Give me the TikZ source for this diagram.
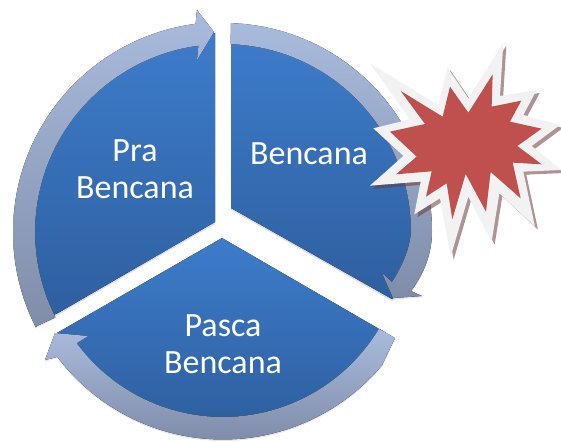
\documentclass[tikz,border=0pt]{standalone}
\usepackage{fontspec}
\setmainfont{Carlito}
\usetikzlibrary{shadows}

\definecolor{blueTop}{HTML}{3D7CCB}
\definecolor{blueBot}{HTML}{2E5F9F}
\definecolor{ringTop}{HTML}{A9BBDD}
\definecolor{ringBot}{HTML}{7F8DA9}
\definecolor{burstRed}{HTML}{C0504D}
\definecolor{burstEdge}{HTML}{F2F2F2}
\definecolor{burstShade}{HTML}{6B3A3C}

\newcommand{\burstouter}{(430,38) -- (420,198) -- (530,180) -- (490,255) -- (600,285) -- (515,348)
  -- (603,420) -- (490,425) -- (525,590) -- (418,490) -- (395,635) -- (325,500) -- (272,680)
  -- (240,505) -- (163,553) -- (182,455) -- (30,467) -- (130,378) -- (40,295) -- (150,268)
  -- (30,100) -- (235,225) -- (262,112) -- (325,205) -- cycle}
\newcommand{\burstinner}{(398,133) -- (395,230) -- (484,212) -- (450,275) -- (545,296) -- (472,348)
  -- (545,403) -- (458,398) -- (482,505) -- (392,426) -- (378,545) -- (317,432) -- (277,568)
  -- (260,460) -- (198,500) -- (215,424) -- (108,433) -- (170,380) -- (90,305) -- (195,282)
  -- (122,183) -- (248,260) -- (270,170) -- (325,248) -- cycle}

\tikzset{
  wedge/.style={
    top color=blueTop, bottom color=blueBot,
    drop shadow={shadow xshift=0pt, shadow yshift=-2pt, opacity=.25},
  },
  ring/.style={
    top color=ringTop, bottom color=ringBot,
    drop shadow={shadow xshift=0pt, shadow yshift=-1.5pt, opacity=.18},
  },
  label/.style={
    text=white, align=center, font=\fontsize{34}{37}\selectfont,
  },
}

\begin{document}
\begin{tikzpicture}[x=1pt,y=-1pt]
\useasboundingbox (0,0) rectangle (561,441);

% Pra Bencana
\fill[wedge] (215,222) -- (215,33)
  -- plot[domain=95:206,samples=40] ({223+198*cos(\x)},{232-198*sin(\x)})
  -- (58,313) -- cycle;
\fill[ring] (37,326)
  -- plot[domain=207:97.5,samples=50] ({223+210*cos(\x)},{232-210*sin(\x)})
  -- (197,10) -- (214,32) -- (197,60)
  -- plot[domain=97.5:207,samples=50] ({223+188*cos(\x)},{232-188*sin(\x)})
  -- cycle;
\node[label] (pra) at (135,169) {Pra\\Bencana};

% Bencana
\fill[wedge] (231,208) -- (231,33)
  -- plot[domain=88:-15,samples=40] ({224+198*cos(\x)},{231-198*sin(\x)})
  -- (392,299) -- cycle;
\fill[ring] (231,23)
  -- plot[domain=88:0,samples=40] ({224+208*cos(\x)},{231-208*sin(\x)})
  .. controls (432,255) and (423,275) .. (411,291)
  -- (422,296) -- (393,298) -- (382,273) -- (392,282)
  .. controls (401,268) and (410,250) .. (411,231)
  -- plot[domain=0:88,samples=40] ({224+187*cos(\x)},{231-187*sin(\x)})
  -- cycle;
\node[label] (bencana) at (309,154) {Bencana};

% Pasca Bencana
\fill[wedge] (222,238) -- (57,333) -- (70,350)
  -- plot[domain=-140:-35,samples=40] ({223+194*cos(\x)},{233-194*sin(\x)})
  -- (386,333) -- cycle;
\fill[ring] (395,338)
  -- plot[domain=-40:-143,samples=50] ({223+207.5*cos(\x)},{232-207.5*sin(\x)})
  -- (45,360) -- (55,333) -- (88,336) -- (77,343)
  -- plot[domain=-143.5:-31,samples=50] ({223+182*cos(\x)},{235-182*sin(\x)})
  -- cycle;
\node[label] (pasca) at (223,344) {Pasca\\Bencana};

% burst
\begin{scope}[shift={(360,30)},x=.3333pt,y=-.3333pt]
\fill[burstShade,opacity=.55,shift={(3pt,-3pt)}] \burstouter;
\fill[burstEdge] \burstouter;
\fill[burstRed] \burstinner;
\end{scope}
\end{tikzpicture}
\end{document}
